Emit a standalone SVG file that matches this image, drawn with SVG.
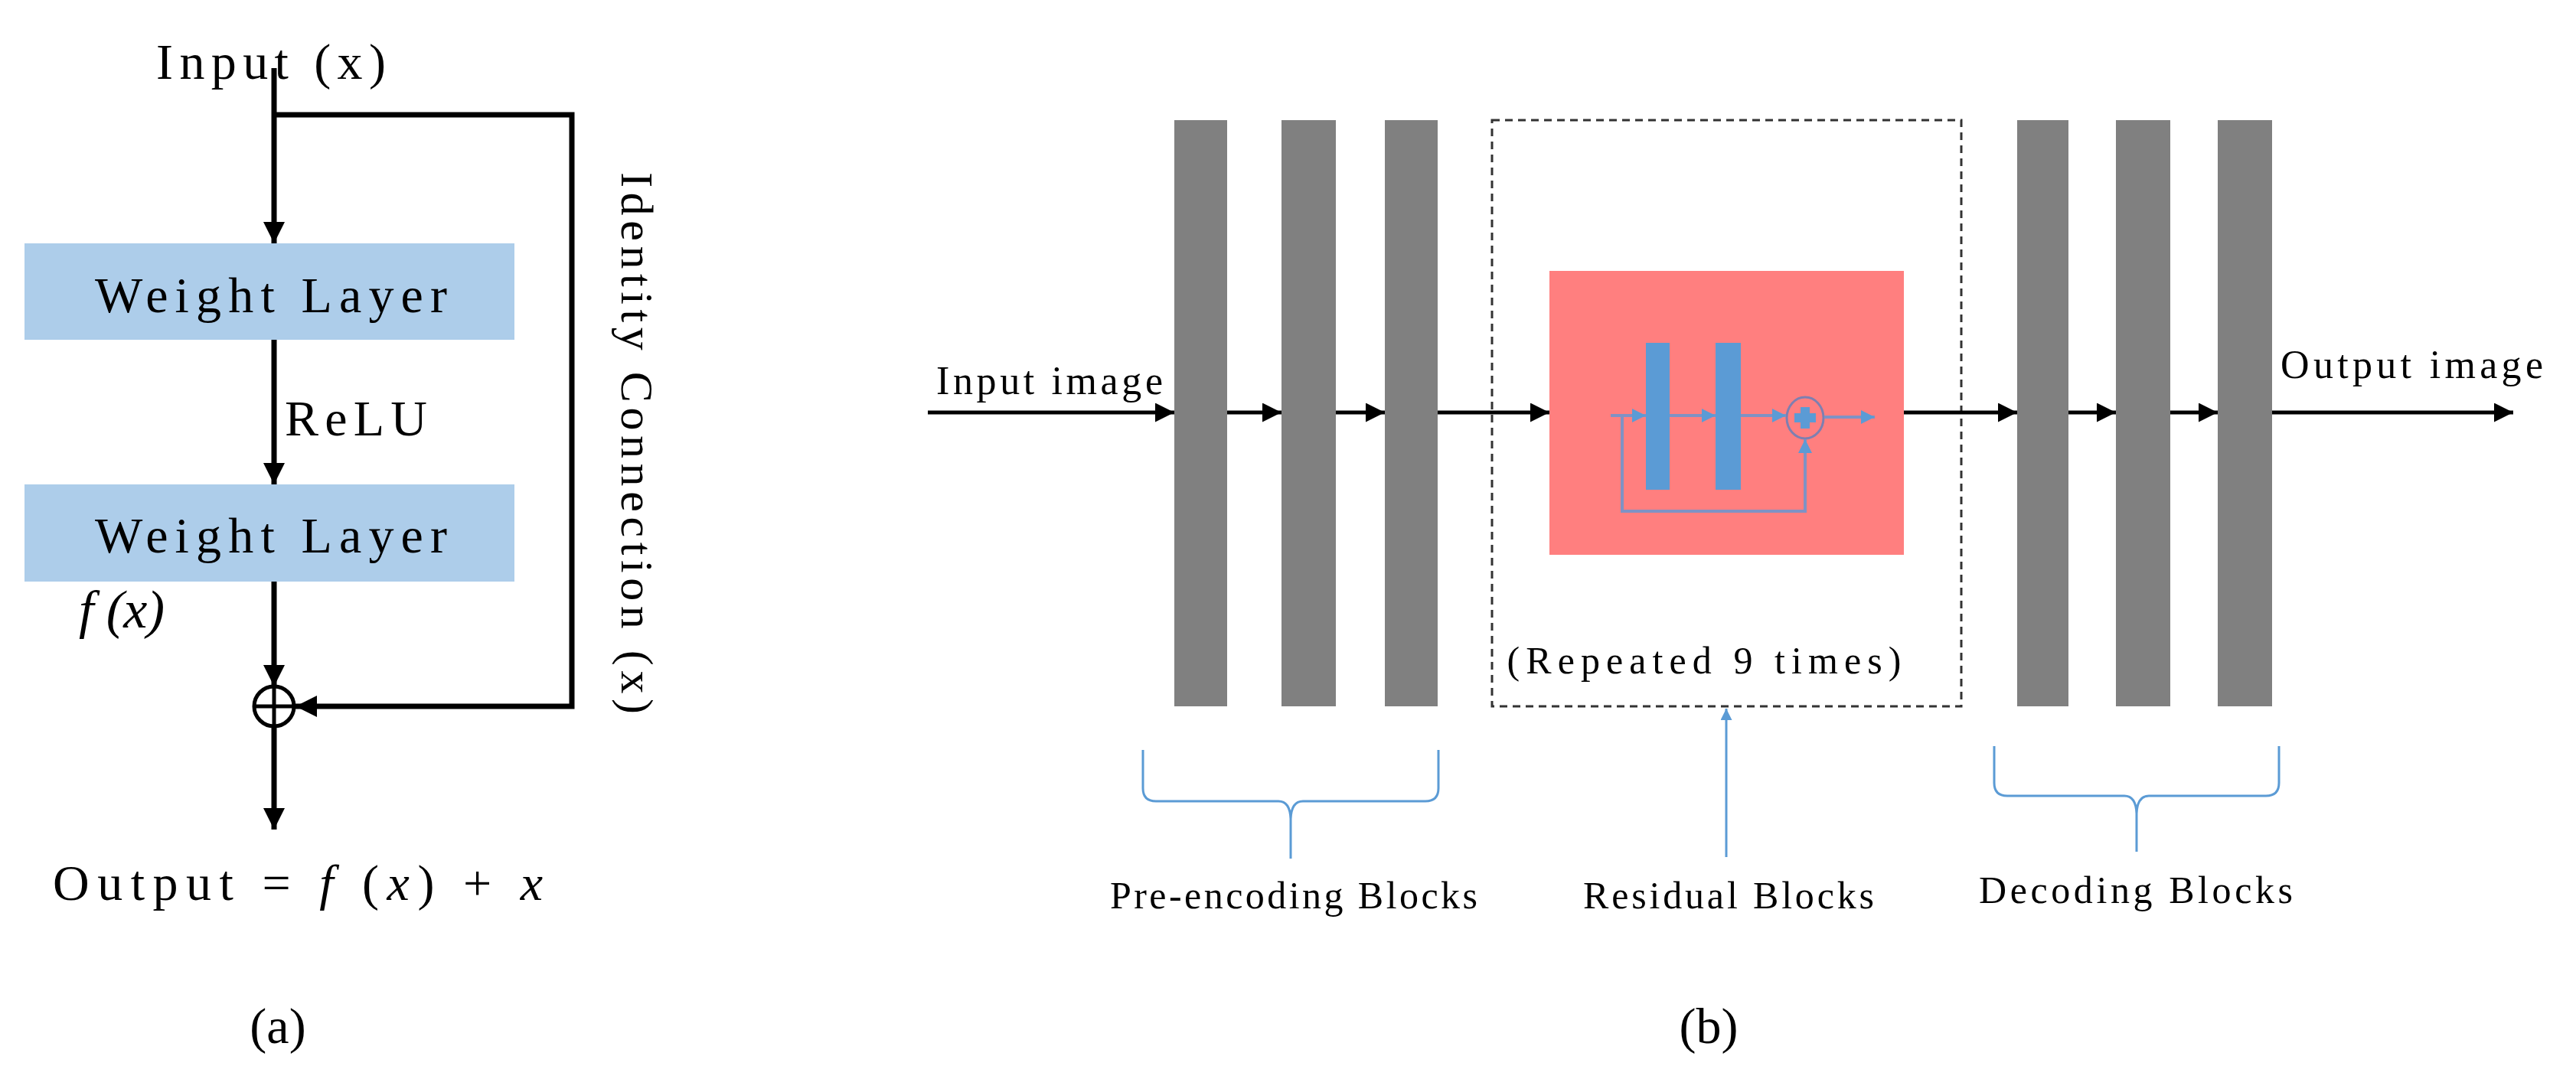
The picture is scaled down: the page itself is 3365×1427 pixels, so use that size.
<svg xmlns="http://www.w3.org/2000/svg" width="3365" height="1427" viewBox="0 0 3365 1427">
<defs>
<style>
.t{font-family:"Liberation Serif","DejaVu Serif",serif;fill:#000}
.k{stroke:#000;stroke-width:7;fill:none}
.kb{stroke:#000;stroke-width:5;fill:none}
.ib{stroke:#7F92C4;stroke-width:4;fill:none}
.br{stroke:#5B9BD5;stroke-width:3;fill:none}
.wl{fill:#ADCDEA}
.gb{fill:#808080}
.bb{fill:#5B9BD5}
</style>
<marker id="ah" viewBox="0 0 10 10" refX="10" refY="5" markerWidth="4" markerHeight="4" markerUnits="strokeWidth" orient="auto"><path d="M0,0L10,5L0,10z" fill="#000"/></marker>
<marker id="ah2" viewBox="0 0 10 10" refX="10" refY="5" markerWidth="5" markerHeight="5" markerUnits="strokeWidth" orient="auto"><path d="M0,0L10,5L0,10z" fill="#000"/></marker>
<marker id="ab" viewBox="0 0 10 10" refX="10" refY="5" markerWidth="4.5" markerHeight="4.5" markerUnits="strokeWidth" orient="auto"><path d="M0,0L10,5L0,10z" fill="#5B9BD5"/></marker>
<marker id="ab2" viewBox="0 0 10 10" refX="10" refY="5" markerWidth="5" markerHeight="5" markerUnits="strokeWidth" orient="auto"><path d="M0,0L10,5L0,10z" fill="#5B9BD5"/></marker>
</defs>
<rect width="3365" height="1427" fill="#fff"/>

<!-- Panel a -->
<g id="a-input"><text class="t" x="354" y="103" font-size="66" text-anchor="middle" textLength="300">Input (x)</text></g>
<g id="a-w1"><rect class="wl" x="32" y="318" width="640" height="126"/><text class="t" x="354" y="408" font-size="66" text-anchor="middle" textLength="460">Weight Layer</text></g>
<g id="a-w2"><rect class="wl" x="32" y="633" width="640" height="127"/><text class="t" x="354" y="722" font-size="66" text-anchor="middle" textLength="460">Weight Layer</text></g>
<g id="a-relu"><text class="t" x="372" y="569" font-size="66" textLength="186">ReLU</text></g>
<g id="a-fx"><text class="t" x="103" y="820" font-size="70" font-style="italic" textLength="112">f (x)</text></g>
<g id="a-sum"><circle cx="358" cy="923" r="26" fill="none" stroke="#000" stroke-width="5"/><path d="M332,923H384M358,897V949" stroke="#000" stroke-width="5"/></g>
<g id="a-output"><text class="t" x="69" y="1176" font-size="66" textLength="640">Output = <tspan font-style="italic">f</tspan> (<tspan font-style="italic">x</tspan>) + <tspan font-style="italic">x</tspan></text></g>
<g id="a-identity"><text class="t" font-size="60" text-anchor="middle" transform="translate(812,579) rotate(90)" textLength="708">Identity Connection (x)</text></g>
<g id="a-label"><text class="t" x="363" y="1363" font-size="66" text-anchor="middle">(a)</text></g>

<!-- Panel b nodes -->
<g id="b-input"><text class="t" x="1223" y="515" font-size="52" textLength="296">Input image</text></g>
<g id="b-output"><text class="t" x="2979" y="494" font-size="52" textLength="343">Output image</text></g>
<g id="b-pre1"><rect class="gb" x="1534" y="157" width="69" height="766"/></g>
<g id="b-pre2"><rect class="gb" x="1674" y="157" width="71" height="766"/></g>
<g id="b-pre3"><rect class="gb" x="1809" y="157" width="69" height="766"/></g>
<g id="b-dec1"><rect class="gb" x="2635" y="157" width="67" height="766"/></g>
<g id="b-dec2"><rect class="gb" x="2764" y="157" width="71" height="766"/></g>
<g id="b-dec3"><rect class="gb" x="2897" y="157" width="71" height="766"/></g>
<g id="b-resbox"><rect x="1949" y="157" width="613" height="766" fill="none" stroke="#333" stroke-width="3" stroke-dasharray="10,7"/>
<text class="t" x="2226" y="880" font-size="50" text-anchor="middle" textLength="515">(Repeated 9 times)</text></g>
<g id="b-res"><rect x="2024" y="354" width="463" height="371" fill="#FF7F7F"/>
<rect class="bb" x="2150" y="448" width="31" height="192"/>
<rect class="bb" x="2241" y="448" width="33" height="192"/>
<ellipse cx="2358" cy="546" rx="24" ry="27" fill="none" stroke="#7F7FB0" stroke-width="3"/>
<path d="M2352,532h12v8h8v12h-8v8h-12v-8h-8v-12h8z" fill="#5B9BD5"/>
<path class="ib" d="M2104,543H2150" marker-end="url(#ab)"/>
<path class="ib" d="M2181,543H2241" marker-end="url(#ab)"/>
<path class="ib" d="M2274,543H2333" marker-end="url(#ab)"/>
<path class="ib" d="M2383,545H2449" marker-end="url(#ab)"/>
<path class="ib" d="M2119,543V668H2358V574" marker-end="url(#ab)"/>
</g>
<g id="b-labels">
<text class="t" x="1690" y="1187" font-size="50" text-anchor="middle" textLength="480">Pre-encoding Blocks</text>
<text class="t" x="2258" y="1187" font-size="50" text-anchor="middle" textLength="380">Residual Blocks</text>
<text class="t" x="2790" y="1180" font-size="50" text-anchor="middle" textLength="410">Decoding Blocks</text>
<text class="t" x="2232" y="1363" font-size="66" text-anchor="middle">(b)</text>
</g>

<!-- Connectors -->
<g id="connectors">
<path class="k" d="M358,89V318" marker-end="url(#ah)"/>
<path class="k" d="M358,150H747V923H386" marker-end="url(#ah)"/>
<path class="k" d="M358,444V633" marker-end="url(#ah)"/>
<path class="k" d="M358,760V897" marker-end="url(#ah)"/>
<path class="k" d="M358,949V1084" marker-end="url(#ah)"/>
<path class="kb" d="M1212,539H1534" marker-end="url(#ah2)"/>
<path class="kb" d="M1603,539H1674" marker-end="url(#ah2)"/>
<path class="kb" d="M1745,539H1809" marker-end="url(#ah2)"/>
<path class="kb" d="M1878,539H2024" marker-end="url(#ah2)"/>
<path class="kb" d="M2487,539H2635" marker-end="url(#ah2)"/>
<path class="kb" d="M2702,539H2764" marker-end="url(#ah2)"/>
<path class="kb" d="M2835,539H2897" marker-end="url(#ah2)"/>
<path class="kb" d="M2968,539H3283" marker-end="url(#ah2)"/>
<path class="br" d="M2255,1120V926" marker-end="url(#ab2)"/>
<path class="br" d="M1493,980V1030Q1493,1047 1510,1047H1670Q1685,1047 1686,1070V1122M1686,1070Q1687,1047 1702,1047H1862Q1879,1047 1879,1030V980"/>
<path class="br" d="M2605,975V1023Q2605,1040 2622,1040H2775Q2790,1040 2791,1063V1113M2791,1063Q2792,1040 2807,1040H2960Q2977,1040 2977,1023V975"/>
</g>
</svg>
